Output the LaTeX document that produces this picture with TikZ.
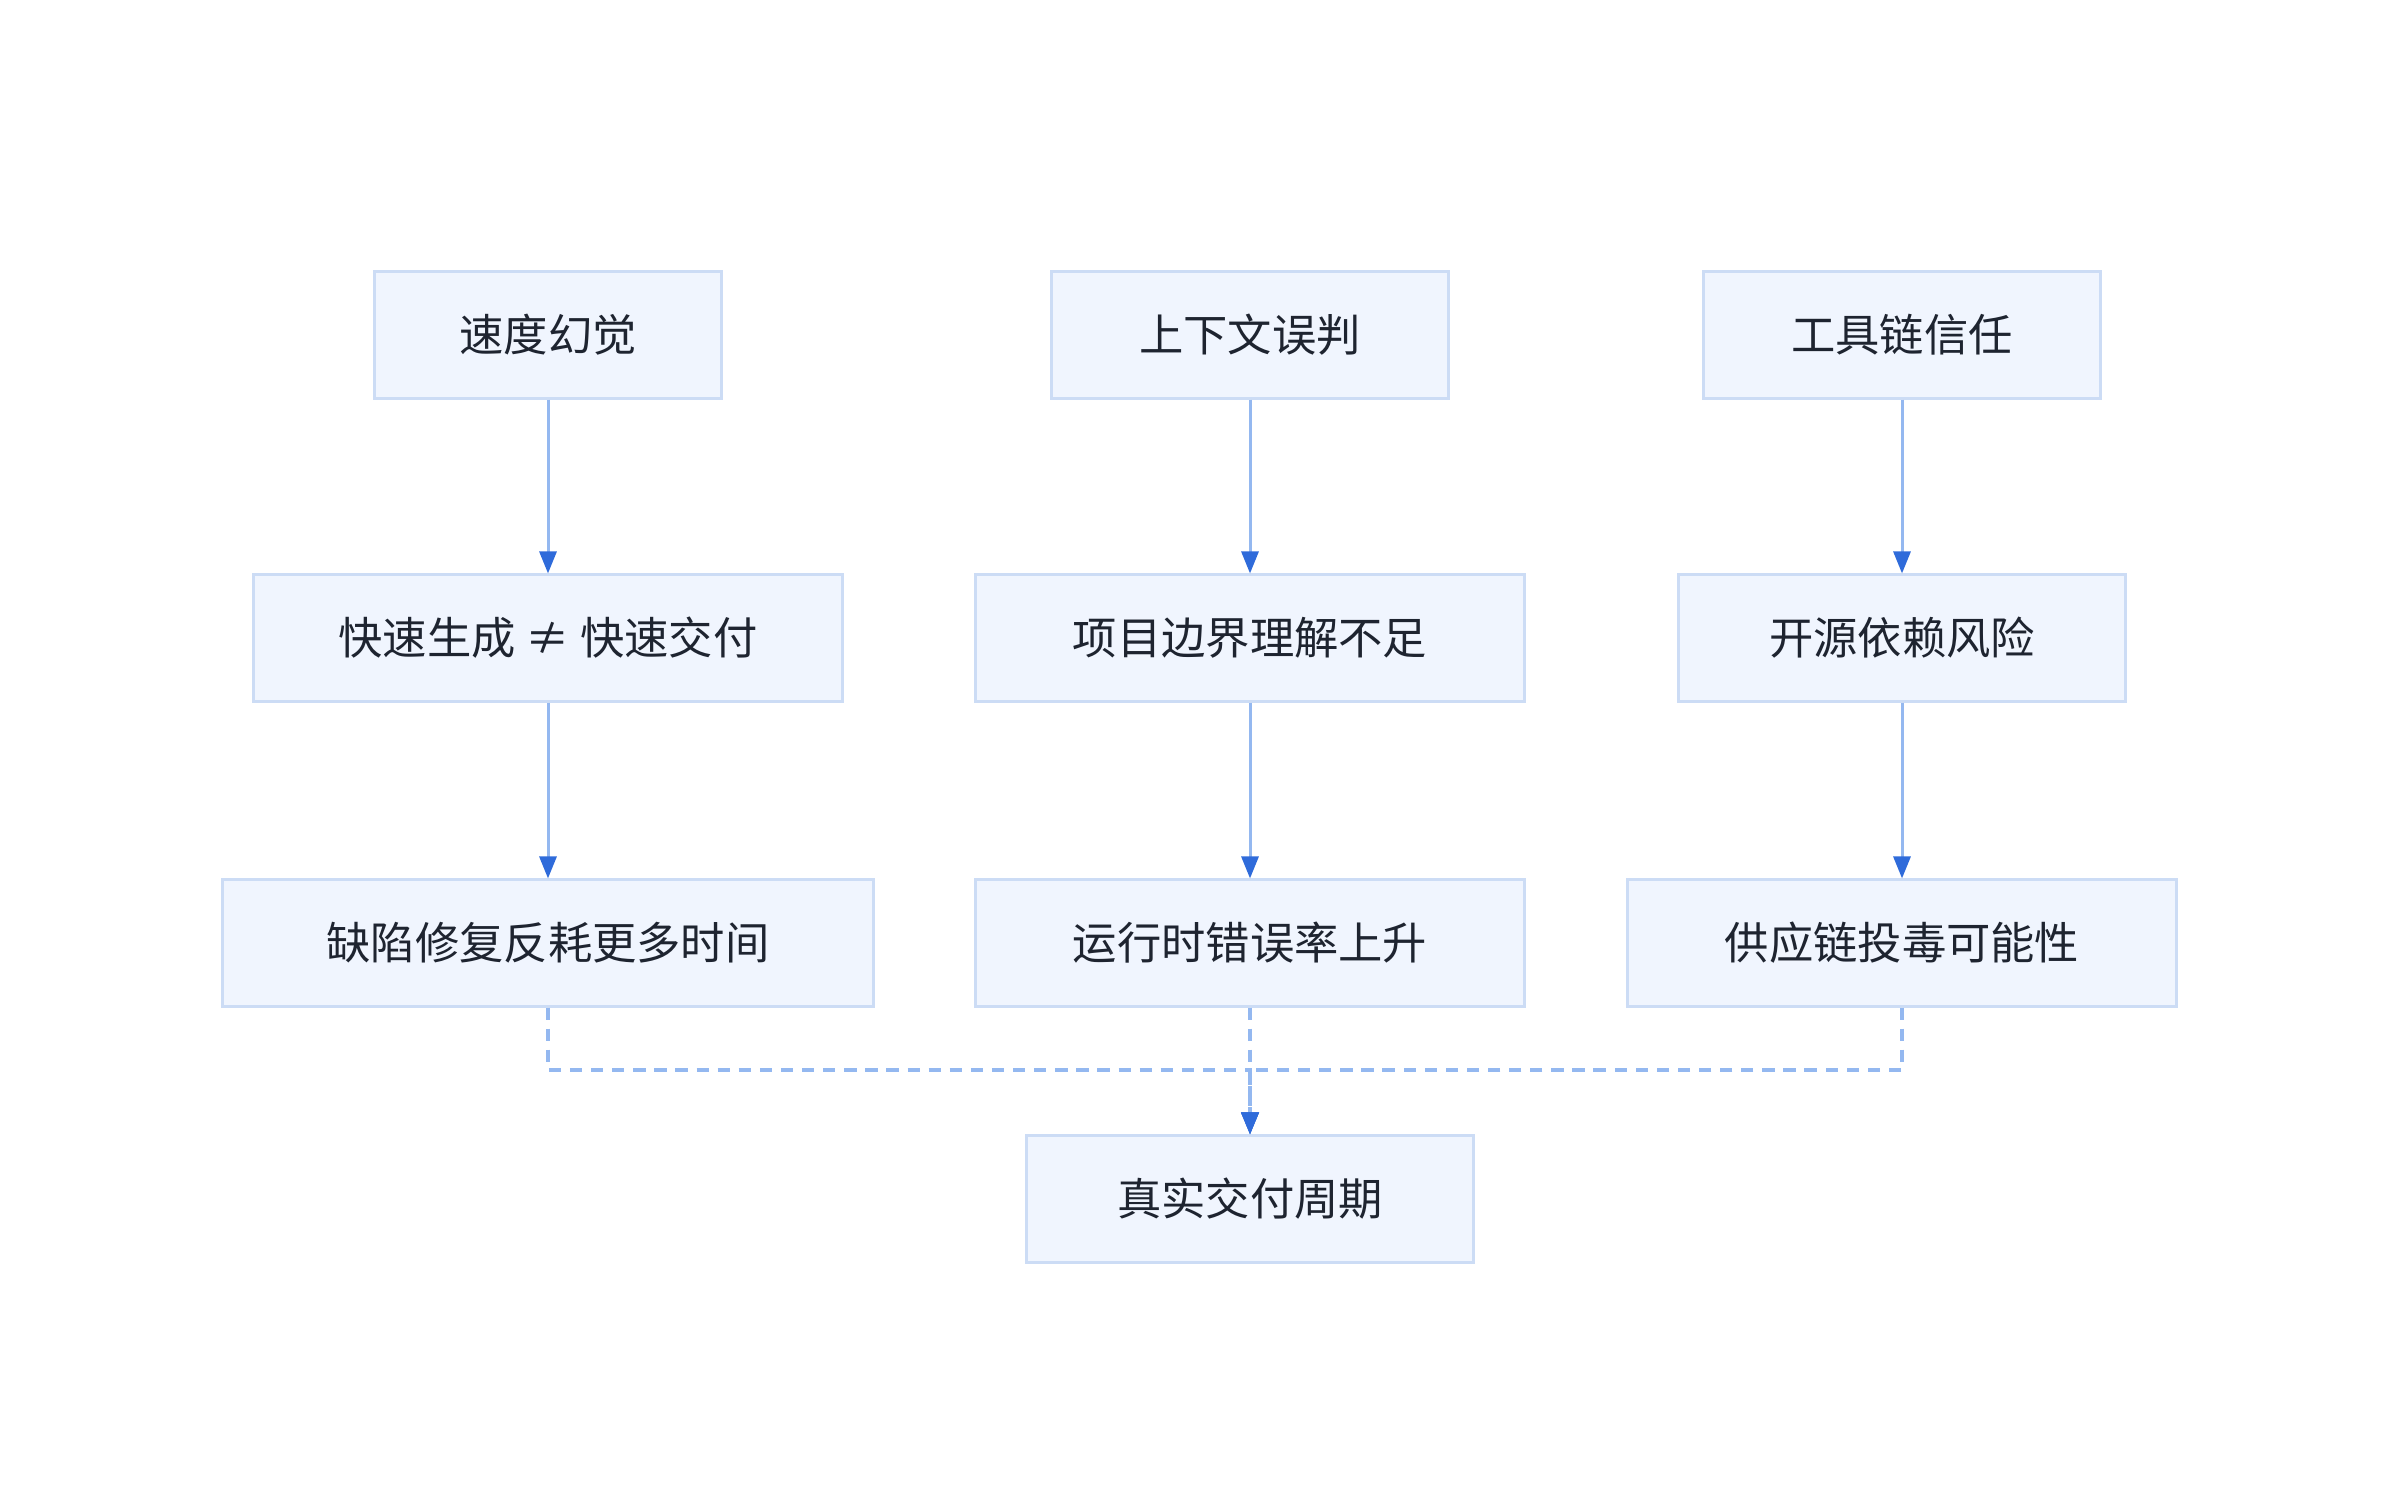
\documentclass[tikz,border=0pt]{standalone}
\usepackage{fontspec}
\setmainfont{Noto Sans CJK SC}
\usetikzlibrary{arrows.meta}
\definecolor{boxfill}{HTML}{F0F5FE}
\definecolor{boxline}{HTML}{CCDCF5}
\definecolor{linkline}{HTML}{94B8F0}
\definecolor{tipblue}{HTML}{2F6BDA}
\definecolor{txt}{HTML}{1E2430}
\begin{document}
\begin{tikzpicture}[x=0.01cm,y=-0.01cm,
    box/.style={draw=boxline, fill=boxfill, line width=0.85pt, text=txt,
      minimum height=1.26cm, inner sep=0pt, font=\fontsize{12.6}{14}\selectfont},
    link/.style={draw=linkline, line width=0.85pt,
      -{Triangle[length=0.22cm,width=0.17cm,color=tipblue,fill=tipblue]}},
    dlink/.style={link, line width=1pt, dash pattern=on 3.5pt off 2.5pt}]
  \useasboundingbox (0,0) rectangle (2400,1486);
  % 第一行
  \node[box, minimum width=3.46cm] (speed) at (548,335) {速度幻觉};
  \node[box, minimum width=3.97cm] (context) at (1250,335) {上下文误判};
  \node[box, minimum width=3.97cm] (tools) at (1902,335) {工具链信任};
  % 第二行
  \node[box, minimum width=5.89cm] (fastgen) at (548,638) {快速生成 ≠ 快速交付};
  \node[box, minimum width=5.48cm] (scope) at (1250,638) {项目边界理解不足};
  \node[box, minimum width=4.46cm] (deps) at (1902,638) {开源依赖风险};
  % 第三行
  \node[box, minimum width=6.51cm] (bugfix) at (548,943) {缺陷修复反耗更多时间};
  \node[box, minimum width=5.48cm] (runtime) at (1250,943) {运行时错误率上升};
  \node[box, minimum width=5.49cm] (poison) at (1902,943) {供应链投毒可能性};
  % 汇总
  \node[box, minimum width=4.47cm] (cycle) at (1250,1199) {真实交付周期};
  \coordinate (join) at (1250,1070);

  \draw[link] (speed) -- (fastgen);
  \draw[link] (fastgen) -- (bugfix);
  \draw[link] (context) -- (scope);
  \draw[link] (scope) -- (runtime);
  \draw[link] (tools) -- (deps);
  \draw[link] (deps) -- (poison);

  \draw[dlink] (bugfix.south) |- (join) -- (cycle.north);
  \draw[dlink] (runtime.south) -- (cycle.north);
  \draw[dlink] (poison.south) |- (join) -- (cycle.north);
\end{tikzpicture}
\end{document}
